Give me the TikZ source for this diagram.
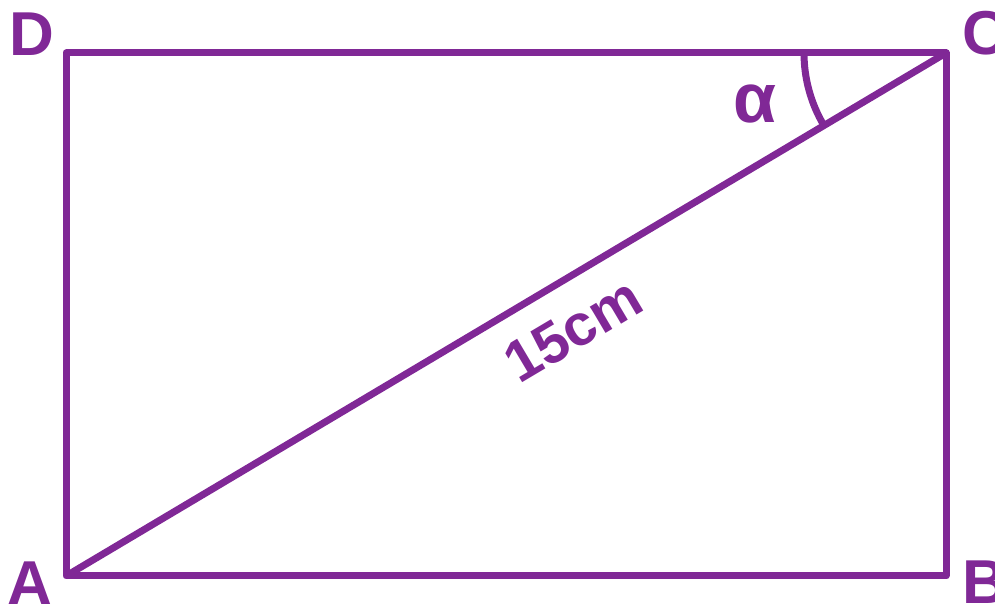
\documentclass[tikz,border=0pt]{standalone}
\usepackage{fontspec}
\setmainfont{Liberation Sans}
\definecolor{purp}{RGB}{128,40,150}
\begin{document}
\begin{tikzpicture}[x=1pt,y=1pt,
  edge/.style={draw=purp,line width=7pt,line join=round},
  lbl/.style={text=purp,font=\fontsize{62}{62}\selectfont\bfseries,inner sep=0pt}]
\useasboundingbox (0,0) rectangle (995,609);
\coordinate (A) at (66,33);
\coordinate (B) at (946,33);
\coordinate (C) at (946,556);
\coordinate (D) at (66,556);
\path[edge] (A) -- (B) -- (C) -- (D) -- cycle;
\path[edge] (A) -- (C);
\path[edge] (C) ++(180:142) arc[start angle=180,end angle=210.7,radius=142];
\node[lbl] (lD) at (32,575) {D};
\node[lbl] (lC) at (985,576) {C};
\node[lbl] (lA) at (30,26) {A};
\node[lbl] (lB) at (985,27) {B};
\node[lbl,font=\fontsize{70}{70}\selectfont\bfseries] (al) at (755,505) {α};
\node[lbl,font=\fontsize{58}{58}\selectfont\bfseries,rotate=30.7] (len) at (573,279) {15cm};
\end{tikzpicture}
\end{document}
